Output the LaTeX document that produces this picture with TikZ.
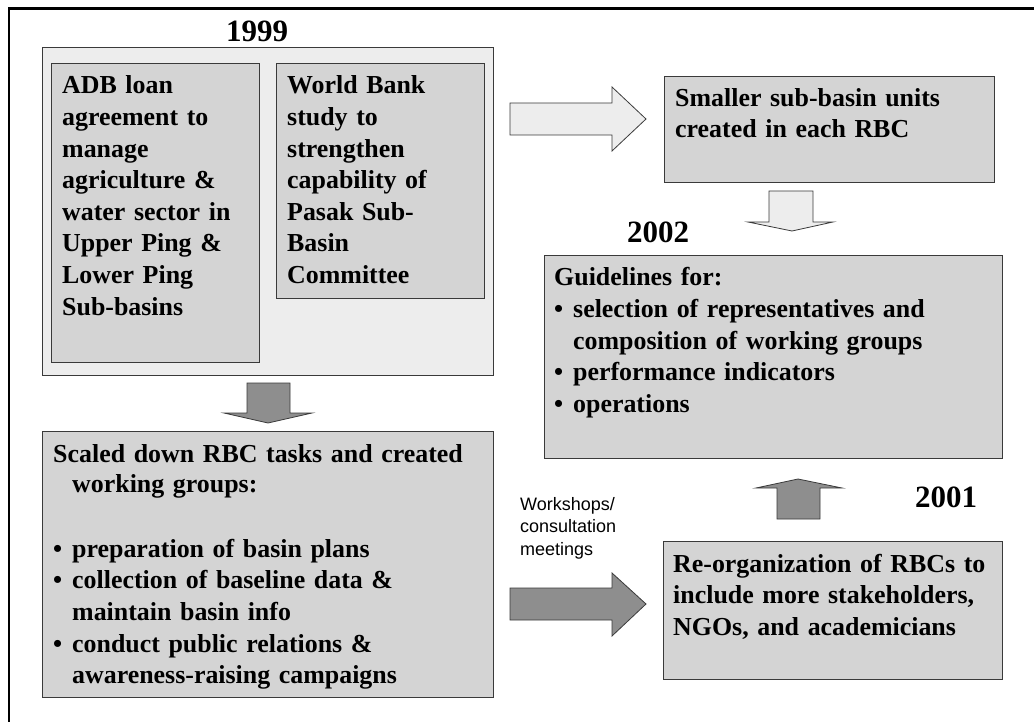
\documentclass[tikz,border=0pt]{standalone}
\usepackage{fontspec}
\setmainfont{Liberation Serif}
\newfontfamily\arialfont{Liberation Sans}
\definecolor{boxgray}{HTML}{D4D4D4}
\definecolor{lightgray}{HTML}{EDEDED}
\definecolor{darkgray}{HTML}{8E8E8E}
\definecolor{boxline}{HTML}{3A3A3A}
\newcommand{\bul}{\makebox[19pt][l]{\textbullet}}
\newcommand{\ind}{\hspace*{19pt}}
\begin{document}
\begin{tikzpicture}[x=1pt,y=-1pt,
  box/.style={draw=boxline, line width=1.2pt, fill=boxgray, anchor=north west, inner sep=0pt},
  outerbox/.style={box, fill=lightgray},
  txt/.style={anchor=base west, inner sep=0pt, align=left, text width=440pt,
    font=\bfseries\fontsize{25.9}{31.6}\selectfont},
  yr/.style={anchor=base west, inner sep=0pt, font=\bfseries\fontsize{31}{36}\selectfont},
  small/.style={anchor=base west, inner sep=0pt, align=left, text width=150pt,
    font=\arialfont\fontsize{18}{22.5}\selectfont},
  lightarrow/.style={draw=boxline, line width=0.8pt, fill=lightgray},
  darkarrow/.style={draw=boxline, line width=0.8pt, fill=darkgray},
]
\useasboundingbox (0,0) rectangle (1034,722);
\draw[line width=2.8pt] (9,722) -- (9,8.5) -- (1034,8.5);

% 1999 group
\node[outerbox, minimum width=451pt, minimum height=328pt] (g1999) at (42,47) {};
\node[yr, anchor=base] (y1999) at (257,42) {1999};
\node[box, minimum width=208pt, minimum height=299pt] (adb) at (51,63) {};
\node[box, minimum width=208pt, minimum height=235pt] (wb) at (276,63) {};
\node[txt, text width=200pt] (adbt) at (62,94) {ADB loan\\ agreement to\\ manage\\ agriculture \&\\ water sector in\\ Upper Ping \&\\ Lower Ping\\ Sub-basins};
\node[txt, text width=200pt] (wbt) at (287,94) {World Bank\\ study to\\ strengthen\\ capability of\\ Pasak Sub-\\ Basin\\ Committee};

% Scaled down box
\node[box, minimum width=451pt, minimum height=266pt] (scaled) at (42,431) {};
\node[txt] (scaledt) at (53,462) {Scaled down RBC tasks and created\\[-1.5pt]
\ind working groups:\\ \mbox{}\\[2pt]
\bul preparation of basin plans\\
\bul collection of baseline data \&\\
\ind maintain basin info\\
\bul conduct public relations \&\\
\ind awareness-raising campaigns};

% Smaller sub-basin box
\node[box, minimum width=330pt, minimum height=106pt] (smaller) at (664,76) {};
\node[txt] (smallert) at (675,107) {Smaller sub-basin units\\[-1.5pt] created in each RBC};

% Guidelines box
\node[yr] (y2002) at (627,243) {2002};
\node[box, minimum width=458pt, minimum height=203pt] (guide) at (544,255) {};
\node[txt] (guidet) at (554,286) {Guidelines for:\\
\bul selection of representatives and\\
\ind composition of working groups\\
\bul performance indicators\\
\bul operations};

% Re-organization box
\node[yr] (y2001) at (915,507) {2001};
\node[box, minimum width=339pt, minimum height=138pt] (reorg) at (663,541) {};
\node[txt] (reorgt) at (673,572) {Re-organization of RBCs to\\ include more stakeholders,\\ NGOs, and academicians};

% Workshops label
\node[small] (ws) at (520,510) {Workshops/\\ consultation\\ meetings};

% Block arrows
\draw[lightarrow] (510,103) -- (612,103) -- (612,87) -- (646,119) -- (612,151) -- (612,135) -- (510,135) -- cycle;
\draw[lightarrow] (769,191) -- (813,191) -- (813,222) -- (833,222) -- (792,231) -- (748,222) -- (769,222) -- cycle;
\draw[darkarrow] (247,383) -- (290,383) -- (290,413) -- (312,413) -- (268,423) -- (224,413) -- (247,413) -- cycle;
\draw[darkarrow] (510,588) -- (612,588) -- (612,573) -- (646,604) -- (612,636) -- (612,620) -- (510,620) -- cycle;
\draw[darkarrow] (777,519) -- (820,519) -- (820,488) -- (842,488) -- (798,479) -- (756,488) -- (777,488) -- cycle;
\end{tikzpicture}
\end{document}
